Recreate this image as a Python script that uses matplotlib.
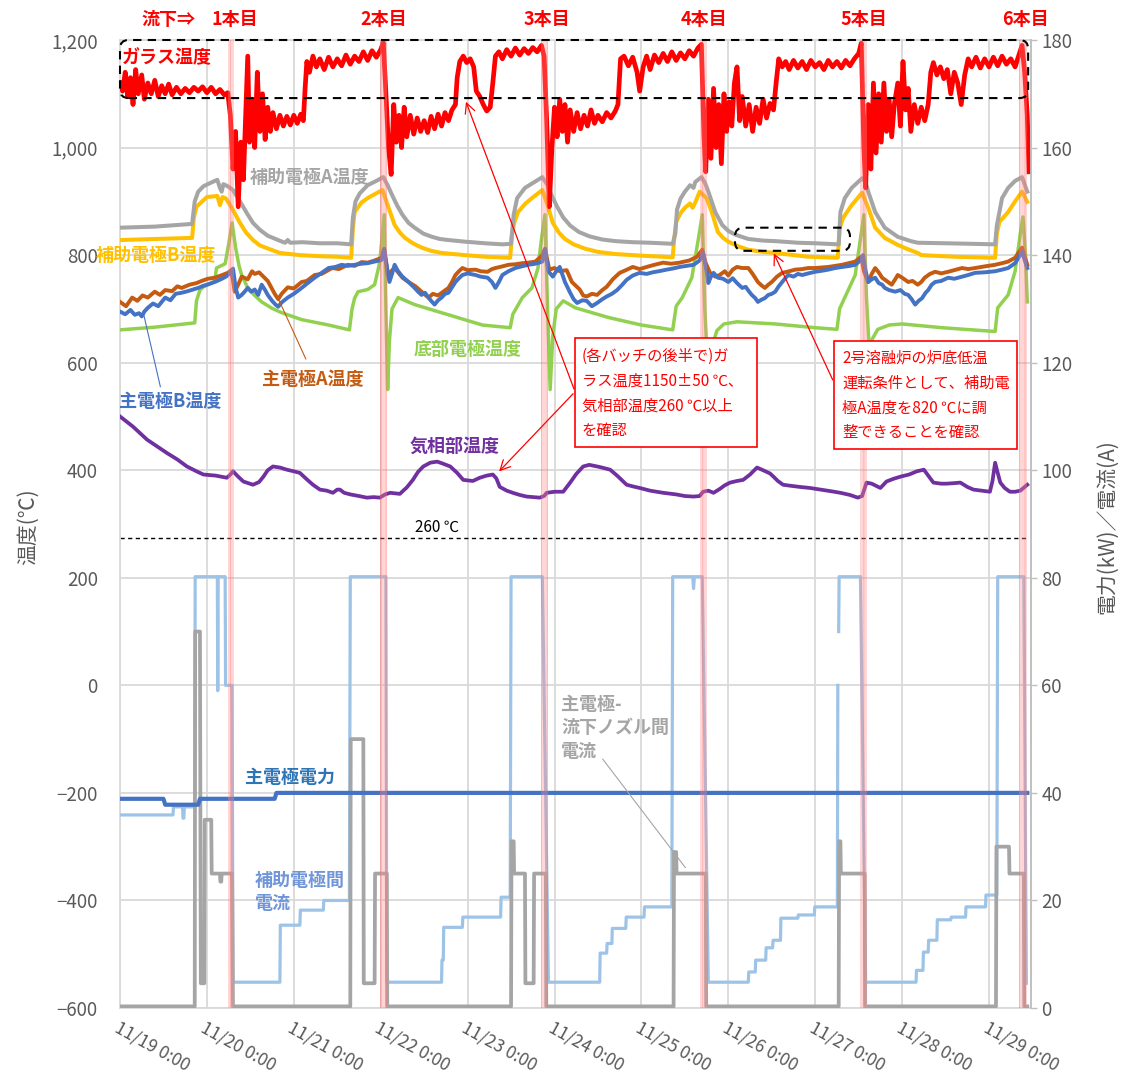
import numpy as np
import matplotlib
matplotlib.use("Agg")
import matplotlib.pyplot as plt
import matplotlib.transforms as mtransforms
from matplotlib.patches import FancyBboxPatch, Rectangle
from matplotlib.ticker import FuncFormatter

plt.rcParams['font.family'] = ['Noto Sans CJK JP', 'DejaVu Sans']
plt.rcParams['axes.unicode_minus'] = True
plt.rcParams['hatch.linewidth'] = 0.5

# ---------------- data (x = days since 11/19 0:00) ----------------
XTICK_LABELS = ['11/19 0:00', '11/20 0:00', '11/21 0:00', '11/22 0:00', '11/23 0:00',
                '11/24 0:00', '11/25 0:00', '11/26 0:00', '11/27 0:00', '11/28 0:00',
                '11/29 0:00']
TAP_START = [1.243, 2.992, 4.845, 6.674, 8.515, 10.345]
TAP_END = [1.312, 3.073, 4.925, 6.755, 8.596, 10.437]
TAP_LABELS = ['1本目', '2本目', '3本目', '4本目', '5本目', '6本目']
TAP_LABEL_X = [1.323, 3.03, 4.91, 6.72, 8.56, 10.42]
REF_LINE = 274          # "260 ℃" reference line
GLASS_RANGE = (1092, 1200)

GLASS_DAY = [0.00,0.03,0.06,0.09,0.12,0.15,0.18,0.21,0.25,0.28,0.32,0.36,0.40,0.44,0.48,0.52,0.56,0.60,0.65,0.70,0.75,0.80,0.85,0.90,0.95,1.00,1.05,1.10,1.15,1.20,1.24,
             1.27,1.30,1.33,1.36,1.39,1.42,1.45,1.47,1.49,1.52,1.55,1.58,1.61,1.64,1.67,1.70,1.73,1.76,1.80,1.84,1.88,1.92,1.96,2.00,2.04,2.08,2.11,2.13,2.15,2.18,2.22,2.26,2.30,2.35,2.40,2.45,2.50,2.55,2.60,2.65,2.70,2.75,2.80,2.85,2.90,2.95,3.00,3.03,
             3.06,3.09,3.12,3.15,3.18,3.21,3.24,3.27,3.30,3.34,3.38,3.42,3.46,3.50,3.54,3.58,3.62,3.66,3.70,3.74,3.78,3.82,3.86,3.88,3.91,3.95,3.99,4.03,4.07,4.10,4.14,4.18,4.22,4.26,4.29,4.32,4.36,4.40,4.45,4.50,4.55,4.60,4.65,4.70,4.75,4.80,4.85,4.88,
             4.91,4.94,4.97,5.00,5.03,5.06,5.09,5.12,5.15,5.18,5.22,5.26,5.30,5.34,5.38,5.42,5.46,5.50,5.55,5.60,5.65,5.70,5.73,5.76,5.80,5.85,5.90,5.95,5.98,6.02,6.06,6.10,6.15,6.20,6.25,6.30,6.35,6.40,6.45,6.50,6.55,6.60,6.65,6.69,
             6.72,6.74,6.77,6.80,6.83,6.86,6.89,6.92,6.95,6.98,7.01,7.04,7.07,7.10,7.13,7.16,7.20,7.24,7.28,7.32,7.36,7.40,7.44,7.48,7.52,7.55,7.58,7.62,7.66,7.70,7.75,7.80,7.85,7.90,7.95,8.00,8.05,8.10,8.15,8.20,8.25,8.30,8.35,8.40,8.45,8.50,8.53,
             8.56,8.58,8.61,8.64,8.67,8.70,8.73,8.76,8.79,8.82,8.85,8.88,8.91,8.95,8.98,9.01,9.04,9.07,9.10,9.14,9.18,9.22,9.26,9.30,9.33,9.36,9.40,9.44,9.48,9.52,9.56,9.60,9.64,9.68,9.72,9.76,9.80,9.85,9.90,9.95,10.00,10.05,10.10,10.15,10.20,10.25,10.30,10.35,10.38,
             10.41,10.44,10.46]
GLASS_TEMP = [1120,1105,1140,1095,1130,1080,1145,1100,1135,1090,1120,1100,1125,1095,1115,1100,1118,1098,1112,1100,1110,1102,1112,1105,1113,1102,1112,1100,1108,1098,1102,
              1060,960,1030,890,1010,940,1080,1170,1010,1090,1000,1140,1030,1100,1015,1075,1030,1065,1035,1060,1040,1058,1042,1060,1045,1062,1050,1110,1160,1140,1170,1150,1165,1145,1168,1150,1165,1152,1172,1155,1170,1160,1178,1162,1180,1168,1182,1195,
              1100,1000,950,1080,1010,1060,1000,1075,1020,1060,1025,1055,1030,1050,1028,1058,1035,1062,1040,1065,1050,1070,1080,1130,1160,1170,1158,1165,1150,1105,1095,1080,1068,1075,1120,1170,1178,1165,1182,1170,1185,1172,1184,1175,1186,1178,1190,1170,
              1050,890,1000,1075,1020,1090,1030,1080,1010,1070,1030,1065,1035,1060,1040,1070,1045,1060,1048,1065,1055,1068,1080,1165,1170,1152,1168,1140,1105,1150,1170,1145,1172,1158,1175,1160,1178,1162,1176,1165,1180,1170,1185,1192,
              1020,955,1090,980,1110,1000,1080,970,1100,1030,1085,1040,1120,1150,1050,1095,1040,1080,1030,1075,1045,1090,1055,1082,1070,1120,1165,1150,1160,1145,1162,1148,1160,1145,1162,1150,1158,1145,1162,1150,1160,1148,1162,1152,1165,1175,1194,
              1000,925,1080,960,1120,990,1100,1010,1120,1030,1090,1020,1080,1120,1040,1160,1070,1110,1030,1080,1045,1075,1050,1080,1140,1158,1135,1150,1128,1145,1100,1140,1120,1080,1135,1165,1150,1168,1148,1165,1150,1168,1152,1170,1155,1165,1150,1175,1190,
              1140,1060,955]

AUXA_DAY = [0.00,0.40,0.83,0.86,0.90,0.96,1.05,1.12,1.15,1.17,1.19,1.24,1.30,1.38,1.46,1.53,1.61,1.70,1.76,1.85,
            1.90,1.93,1.96,2.10,2.30,2.50,2.66,2.68,2.71,2.76,2.85,2.95,3.03,3.08,3.13,3.19,3.25,3.32,3.39,3.49,
            3.59,3.68,3.78,3.97,4.20,4.40,4.50,4.53,4.57,4.66,4.76,4.86,4.92,4.97,5.03,5.10,5.18,5.28,5.40,5.55,
            5.70,5.90,6.10,6.36,6.39,6.41,6.45,6.50,6.56,6.60,6.62,6.69,6.73,6.77,6.85,6.93,7.00,7.08,7.23,7.40,
            7.54,7.80,8.00,8.27,8.29,8.34,8.42,8.54,8.58,8.61,8.69,8.80,8.95,9.10,9.18,9.50,9.80,10.07,10.09,10.15,
            10.22,10.30,10.38,10.44]
AUXA_TEMP = [851,853,858,900,918,928,935,940,925,918,932,928,921,900,878,860,847,836,832,826,
             823,828,823,824,822,822,820,870,900,915,930,938,945,930,912,892,875,860,851,840,
             834,830,828,825,822,820,821,875,906,925,935,945,930,910,890,870,855,843,835,829,
             826,824,823,821,840,885,905,918,930,925,936,945,935,918,880,856,845,838,830,827,
             826,823,822,820,880,906,925,943,935,918,880,851,834,826,823,822,821,820,855,906,
             925,938,945,918]

AUXB_DAY = [0.00,0.40,0.83,0.85,0.88,1.00,1.12,1.15,1.18,1.22,1.30,1.38,1.45,1.53,1.61,1.69,1.84,2.07,2.30,2.50,
            2.66,2.68,2.70,2.78,2.85,2.95,3.02,3.08,3.16,3.22,3.28,3.37,3.47,3.58,3.70,3.97,4.20,4.49,4.51,4.54,
            4.58,4.66,4.74,4.86,4.92,4.98,5.05,5.12,5.22,5.35,5.50,5.70,6.00,6.36,6.38,6.40,6.45,6.50,6.56,6.59,
            6.62,6.67,6.75,6.81,6.88,6.94,7.00,7.12,7.23,7.40,7.54,7.92,8.26,8.28,8.32,8.42,8.54,8.61,8.69,8.80,
            8.95,9.05,9.18,9.22,9.60,10.07,10.09,10.12,10.22,10.30,10.38,10.44]
AUXB_TEMP = [828,830,832,870,890,908,910,893,908,905,884,860,842,828,818,813,804,800,798,797,
             795,850,880,898,906,915,921,893,856,842,832,822,814,808,804,800,797,795,838,862,
             880,895,906,921,893,860,842,830,820,812,806,802,799,796,835,862,878,888,896,888,
             898,918,906,880,843,832,825,816,810,806,804,797,795,850,869,893,916,888,851,832,
             819,812,804,800,797,795,840,862,880,900,918,899]

BOT_DAY = [0.00,0.40,0.86,0.88,0.92,0.96,1.05,1.09,1.11,1.16,1.21,1.25,1.29,1.33,1.37,1.40,1.47,1.55,1.63,1.75,
           1.86,2.09,2.40,2.64,2.67,2.70,2.74,2.85,2.93,2.98,3.00,3.04,3.06,3.08,3.10,3.13,3.20,3.39,3.78,4.17,
           4.49,4.52,4.63,4.74,4.81,4.85,4.89,4.92,4.95,4.98,5.02,5.10,5.24,5.62,6.00,6.36,6.40,6.47,6.58,6.65,
           6.70,6.73,6.76,6.80,6.87,6.95,7.10,7.54,8.00,8.25,8.28,8.34,8.46,8.52,8.56,8.59,8.62,8.66,8.72,8.85,
           9.00,9.46,10.07,10.10,10.22,10.30,10.36,10.39,10.42,10.44]
BOT_TEMP = [661,666,674,715,735,741,748,752,776,780,784,820,860,814,780,763,739,725,713,701,
            693,680,670,661,700,720,732,736,745,780,806,875,700,550,640,700,721,708,689,670,
            665,690,721,739,776,830,875,700,550,650,700,715,702,684,670,661,705,721,758,825,
            875,700,600,625,660,672,676,672,665,662,700,721,763,830,875,720,630,645,662,670,
            672,665,658,702,726,770,840,871,800,713]

MA_DAY = [0.00,0.07,0.14,0.20,0.26,0.32,0.40,0.46,0.52,0.60,0.66,0.71,0.80,0.88,0.94,1.01,1.09,1.16,1.24,1.28,
          1.32,1.36,1.40,1.47,1.52,1.55,1.60,1.65,1.70,1.74,1.78,1.82,1.86,1.93,2.00,2.09,2.15,2.24,2.32,2.44,
          2.52,2.62,2.70,2.78,2.85,2.93,3.01,3.04,3.08,3.12,3.16,3.20,3.25,3.32,3.40,3.47,3.55,3.60,3.66,3.72,
          3.78,3.82,3.86,3.90,3.94,4.00,4.09,4.15,4.23,4.28,4.32,4.40,4.47,4.55,4.63,4.70,4.78,4.86,4.89,4.94,
          5.00,5.06,5.14,5.20,5.29,5.33,5.37,5.43,5.49,5.55,5.60,5.67,5.75,5.82,5.90,5.98,6.06,6.15,6.25,6.34,
          6.44,6.55,6.64,6.70,6.74,6.79,6.85,6.90,6.96,7.00,7.05,7.10,7.16,7.23,7.28,7.34,7.38,7.42,7.46,7.50,
          7.56,7.62,7.70,7.77,7.85,7.92,8.00,8.15,8.31,8.46,8.53,8.56,8.61,8.65,8.69,8.73,8.77,8.82,8.88,8.92,
          8.95,9.00,9.07,9.12,9.18,9.22,9.26,9.32,9.38,9.45,9.53,9.60,9.69,9.76,9.84,9.95,10.07,10.15,10.22,10.30,
          10.38,10.44]
MA_TEMP = [713,705,721,715,725,721,732,726,735,733,742,739,745,748,752,756,758,762,767,772,
           732,745,760,755,770,765,768,760,752,740,728,718,728,740,738,750,752,763,765,776,
           774,782,780,787,786,790,795,812,763,770,776,768,758,750,742,732,721,728,725,732,
           739,750,763,770,776,772,773,770,769,774,776,779,782,783,785,786,788,800,812,773,
           776,770,772,750,736,725,723,728,726,735,741,755,767,772,778,774,778,782,786,784,
           786,790,797,810,785,767,760,763,770,762,773,778,776,776,765,750,744,739,745,750,
           760,767,770,773,774,776,776,778,782,788,797,770,750,765,776,768,758,752,745,755,
           763,758,750,752,745,750,758,765,769,766,769,772,776,774,776,779,782,785,788,795,
           814,782]

MB_DAY = [0.00,0.06,0.12,0.17,0.22,0.25,0.28,0.32,0.38,0.44,0.52,0.58,0.64,0.71,0.78,0.84,0.90,0.96,1.02,1.09,
          1.16,1.22,1.27,1.30,1.33,1.36,1.40,1.44,1.47,1.51,1.55,1.59,1.63,1.67,1.70,1.75,1.79,1.82,1.86,1.93,
          2.00,2.09,2.16,2.24,2.32,2.40,2.48,2.55,2.62,2.70,2.78,2.85,2.93,3.01,3.04,3.08,3.10,3.13,3.16,3.20,
          3.25,3.32,3.39,3.43,3.47,3.51,3.55,3.58,3.62,3.66,3.70,3.74,3.78,3.82,3.86,3.90,3.94,4.00,4.09,4.15,
          4.23,4.28,4.32,4.36,4.40,4.47,4.55,4.62,4.70,4.78,4.86,4.89,4.93,4.98,5.02,5.06,5.12,5.18,5.22,5.26,
          5.32,5.37,5.43,5.49,5.55,5.60,5.66,5.72,5.78,5.83,5.90,5.98,6.06,6.13,6.20,6.29,6.36,6.44,6.52,6.60,
          6.67,6.71,6.75,6.77,6.80,6.83,6.88,6.94,7.00,7.05,7.10,7.16,7.20,7.24,7.27,7.31,7.34,7.38,7.42,7.46,
          7.50,7.54,7.58,7.62,7.66,7.69,7.75,7.80,7.85,7.92,8.00,8.08,8.15,8.23,8.31,8.40,8.46,8.52,8.55,8.58,
          8.61,8.65,8.69,8.73,8.77,8.80,8.85,8.92,8.98,9.03,9.07,9.11,9.15,9.19,9.23,9.27,9.30,9.34,9.38,9.45,
          9.53,9.60,9.69,9.76,9.84,9.95,10.07,10.15,10.22,10.30,10.38,10.44]
MB_TEMP = [695,690,698,689,692,686,695,702,710,705,721,716,728,730,733,736,739,743,746,750,
           755,760,767,775,740,721,726,733,739,732,736,726,745,735,726,715,708,704,712,721,
           728,739,748,758,767,776,778,782,780,782,784,785,788,791,810,770,750,765,782,770,
           760,750,739,732,726,730,721,715,708,716,721,728,730,740,750,757,763,766,763,760,
           758,750,739,750,763,770,776,779,782,784,788,810,770,760,770,778,750,730,718,711,
           716,715,705,711,718,723,728,735,745,754,762,767,765,768,770,773,775,778,780,782,
           790,804,770,748,760,767,758,756,750,757,748,739,741,732,726,720,713,717,720,726,
           728,732,742,750,758,763,760,765,763,766,769,771,773,776,778,780,782,790,800,770,
           750,755,758,748,745,739,735,732,735,728,726,718,708,715,720,730,735,745,750,752,
           758,756,760,763,767,768,770,773,776,785,806,776]

GAS_DAY = [0.00,0.15,0.31,0.42,0.54,0.66,0.77,0.88,0.96,1.10,1.23,1.27,1.30,1.36,1.42,1.53,1.60,1.65,1.70,1.76,
           1.84,1.92,2.00,2.07,2.15,2.22,2.30,2.38,2.45,2.50,2.53,2.58,2.65,2.75,2.84,2.92,2.99,3.05,3.11,3.22,
           3.30,3.37,3.43,3.49,3.57,3.65,3.72,3.80,3.88,3.95,4.06,4.14,4.22,4.29,4.33,4.37,4.45,4.52,4.60,4.68,
           4.76,4.83,4.88,4.91,5.00,5.10,5.18,5.25,5.33,5.40,5.52,5.64,5.72,5.83,5.90,5.98,6.10,6.25,6.40,6.50,
           6.60,6.67,6.71,6.77,6.83,6.90,6.96,7.02,7.10,7.17,7.25,7.33,7.40,7.48,7.52,7.57,7.63,7.72,7.82,7.94,
           8.06,8.18,8.29,8.40,8.49,8.54,8.59,8.65,8.75,8.82,8.90,8.98,9.08,9.17,9.25,9.30,9.36,9.45,9.51,9.60,
           9.67,9.75,9.82,9.92,10.01,10.04,10.07,10.10,10.13,10.18,10.24,10.30,10.36,10.44]
GAS_TEMP = [500,481,457,445,432,420,407,398,392,390,386,392,398,388,379,373,378,388,400,407,
            405,401,398,395,383,373,364,362,358,364,364,358,355,352,349,350,349,355,358,356,
            368,382,397,407,414,416,412,407,395,382,380,386,390,392,385,369,362,358,354,351,
            350,349,352,358,360,360,377,393,407,410,406,401,390,373,370,367,362,358,355,352,
            351,352,360,362,358,365,372,377,380,382,392,405,400,394,388,380,373,371,369,367,
            364,361,358,354,349,352,377,375,367,379,384,388,392,398,401,390,377,375,375,376,
            377,369,364,362,360,380,414,395,377,367,360,360,362,373]

# right axis (kW / A)
PWR_DAY = [0.00, 0.50, 0.52, 0.90, 0.92, 1.78, 1.80, 10.44]
PWR_VAL = [38.9, 38.9, 37.8, 37.8, 38.9, 38.9, 40.0, 40.0]

AC_DAY = [0.00,0.61,0.615,0.72,0.725,0.735,0.74,0.86,0.865,1.12,
          1.125,1.13,1.21,1.215,1.29,1.30,1.84,1.845,2.07,2.075,
          2.34,2.345,2.64,2.65,3.06,3.07,3.70,3.705,3.72,3.725,
          3.94,3.945,4.38,4.385,4.49,4.50,4.86,4.93,5.52,5.525,
          5.60,5.605,5.66,5.665,5.82,5.825,6.03,6.035,6.35,6.36,
          6.59,6.60,6.61,6.70,6.77,7.23,7.235,7.31,7.315,7.43,
          7.435,7.51,7.515,7.60,7.605,7.80,7.805,7.99,7.995,8.255,
          8.26,8.265,8.27,8.275,8.52,8.58,9.16,9.165,9.24,9.245,
          9.30,9.305,9.40,9.405,9.56,9.565,9.73,9.735,9.96,9.965,
          10.09,10.10,10.40,10.43]
AC_VAL = [35.9,35.9,37.4,37.4,35.3,35.3,37.4,37.4,80.2,80.2,
          59,80.2,80.2,60,60,4.8,4.8,15.4,15.4,18.2,
          18.2,20,20,80.2,80.2,4.8,4.8,8.9,8.9,15,
          15,16.9,16.9,20.6,20.6,80.2,80.2,4.8,4.8,10.2,
          10.2,12,12,14.8,14.8,16.9,16.9,18.8,18.8,80.2,
          80.2,78,80.2,80.2,4.8,4.8,6.7,6.7,8.9,8.9,
          11.2,11.2,12.6,12.6,16.7,16.7,17.3,17.3,18.8,18.8,
          60,np.nan,70,80.2,80.2,4.8,4.8,7,7,10.4,
          10.4,12.6,12.6,16.4,16.4,16.9,16.9,18.8,18.8,21,
          21,80.2,80.2,4.6]

NC_DAY = [0.00,0.86,0.865,0.92,0.93,0.97,0.975,1.05,1.055,1.15,
          1.155,1.165,1.17,1.29,1.30,2.65,2.655,2.80,2.805,2.93,
          2.935,3.07,3.075,4.50,4.505,4.53,4.535,4.66,4.665,4.76,
          4.765,4.90,4.905,6.37,6.375,6.40,6.405,6.74,6.745,8.27,
          8.275,8.29,8.295,8.57,8.575,10.08,10.085,10.23,10.235,10.40,
          10.405,10.44]
NC_VAL = [0.3,0.3,70,70,4.6,4.6,35,35,25,25,
          23.5,23.5,25,25,0.3,0.3,50,50,4.6,4.6,
          25,25,0.3,0.3,31,31,25,25,4.6,4.6,
          25,25,0.3,0.3,29,29,25,25,0.3,0.3,
          31,31,25,25,0.3,0.3,30,30,25,25,
          0.3,0.3]

BOX1_TEXT = "(各バッチの後半で)ガ\nラス温度1150±50 ℃、\n気相部温度260 ℃以上\nを確認"
BOX2_TEXT = "2号溶融炉の炉底低温\n運転条件として、補助電\n極A温度を820 ℃に調\n整できることを確認"

# ---------------- figure ----------------
W, H = 1124, 1081
fig = plt.figure(figsize=(W / 100, H / 100), dpi=100)
ax = fig.add_axes([120 / W, 73 / H, 911 / W, 968 / H])
ax2 = ax.twinx()
ax2.set_autoscale_on(False)

XMAX = 10.483
ax.set_xlim(0, XMAX)
ax.set_ylim(-600, 1200)
ax2.set_ylim(0, 180)

GRAY_TXT = '#595959'
GRID = '#d9d9d9'

# temperature series
ax.plot(BOT_DAY, BOT_TEMP, color='#92d050', lw=2.5, zorder=3)
ax.plot(MA_DAY, MA_TEMP, color='#c55a11', lw=2.8, zorder=4)
ax.plot(MB_DAY, MB_TEMP, color='#4472c4', lw=2.8, zorder=5)
ax.plot(AUXB_DAY, AUXB_TEMP, color='#ffc000', lw=2.9, zorder=6)
ax.plot(AUXA_DAY, AUXA_TEMP, color='#a5a5a5', lw=2.9, zorder=7)
ax.plot(GAS_DAY, GAS_TEMP, color='#7030a0', lw=2.7, zorder=8)
ax.plot(GLASS_DAY, GLASS_TEMP, color='#ff0000', lw=3.4, zorder=9)
ax.hlines(REF_LINE, 0, 10.45, colors='black', linestyles=(0, (3, 2.5)), lw=1.0, zorder=2)

# power / current series
ax2.plot(AC_DAY, AC_VAL, color='#9dc3e6', lw=2.3, zorder=3)
ax2.plot(NC_DAY, NC_VAL, color='#a5a5a5', lw=2.7, zorder=4)
ax2.plot(PWR_DAY, PWR_VAL, color='#4472c4', lw=3.0, zorder=5)

# tapping bands
for s, e in zip(TAP_START, TAP_END):
    ax2.axvspan(s, e, facecolor=(1, 0.55, 0.55, 0.35), edgecolor=(1, 0.3, 0.3, 0.35),
                hatch='|||', lw=0, zorder=10)

# dashed rounded frames
px_per_x = 911 / XMAX
px_per_y = 968 / 1800
aspect = px_per_x / px_per_y
big = FancyBboxPatch((0.0, GLASS_RANGE[0]), 10.45, GLASS_RANGE[1] - GLASS_RANGE[0],
                     boxstyle='round,pad=0,rounding_size=0.1', mutation_aspect=aspect,
                     fill=False, ec='black', ls=(0, (4, 3)), lw=1.5, clip_on=False,
                     transform=ax.transData, zorder=11)
ax2.add_patch(big)
small = FancyBboxPatch((7.077, 808), 1.323, 43,
                       boxstyle='round,pad=0,rounding_size=0.1', mutation_aspect=aspect,
                       fill=False, ec='black', ls=(0, (4, 3)), lw=1.5, clip_on=False,
                       transform=ax.transData, zorder=11)
ax2.add_patch(small)

# ticks
ax.set_xticks(range(len(XTICK_LABELS)))
ax.set_xticklabels(XTICK_LABELS, rotation=-29, ha='left', va='top', rotation_mode='anchor')
ax.tick_params(axis='x', length=0, pad=8, labelsize=12.5, labelcolor=GRAY_TXT)
ax.set_yticks(np.arange(-600, 1201, 200))
ax.yaxis.set_major_formatter(FuncFormatter(lambda v, p: f"{int(v):,}".replace('-', '\u2212')))
ax.tick_params(axis='y', length=0, pad=16, labelsize=13.5, labelcolor=GRAY_TXT)
ax2.set_yticks(np.arange(0, 181, 20))
ax2.tick_params(axis='y', length=4.5, width=1, color='#bfbfbf', pad=3, labelsize=13.5,
                labelcolor=GRAY_TXT)
ax.grid(True, color=GRID, lw=1.3)
ax.set_axisbelow(True)
for sp in ax.spines.values():
    sp.set_color(GRID)
    sp.set_linewidth(1.3)
for k in ['left', 'top', 'bottom']:
    ax2.spines[k].set_visible(False)
ax2.spines['right'].set_color('#bfbfbf')
ax2.spines['right'].set_linewidth(1.3)

fig.text(28 / W, 1 - 527 / H, '温度(℃)', rotation=90, ha='center', va='center',
         fontsize=15, color=GRAY_TXT)
fig.text(1107 / W, 1 - 527 / H, '電力(kW)／電流(A)', rotation=90, ha='center', va='center',
         fontsize=15, color=GRAY_TXT)

# top labels
top = mtransforms.blended_transform_factory(ax.transData, ax.transAxes)
ax.text(0.555, 1.0207, '流下⇒', transform=top, ha='center', va='center',
        fontsize=13, fontweight='bold', color='#ff0000')
for x, lab in zip(TAP_LABEL_X, TAP_LABELS):
    ax.text(x, 1.0207, lab, transform=top, ha='center', va='center',
            fontsize=13, fontweight='bold', color='#ff0000')

# series labels
bold = dict(fontsize=13, fontweight='bold')
ax.text(0.023, 1168, 'ガラス温度', color='#ff0000', ha='left', va='center', zorder=12, **bold)
ax.text(2.175, 945, '補助電極A温度', color='#a5a5a5', ha='center', va='center', **bold)
ax.text(0.414, 800, '補助電極B温度', color='#ffc000', ha='center', va='center', **bold)
ax.text(2.22, 568, '主電極A温度', color='#c55a11', ha='center', va='center', **bold)
ax.text(0.58, 527, '主電極B温度', color='#4472c4', ha='center', va='center', **bold)
ax.text(4.0, 624, '底部電極温度', color='#92d050', ha='center', va='center', **bold)
ax.text(3.855, 444, '気相部温度', color='#7030a0', ha='center', va='center', **bold)
ax.text(3.65, 293, '260 ℃', color='black', ha='center', va='center', fontsize=11)
ax2.text(1.956, 42.8, '主電極電力', color='#2e75b6', ha='center', va='center', zorder=12, **bold)
ax2.text(1.553, 21.6, '補助電極間\n電流', color='#7095d8', ha='left', va='center',
         linespacing=1.3, zorder=12, **bold)
ax2.text(5.075, 52.1, '主電極-\n流下ノズル間\n電流', color='#a5a5a5', ha='left', va='center',
         linespacing=1.3, zorder=12, **bold)

# leader lines
ax.annotate('', xy=(0.265, 695), xytext=(0.472, 550),
            arrowprops=dict(arrowstyle='-', color='#4472c4', lw=0.8), zorder=12)
ax.annotate('', xy=(1.807, 724), xytext=(2.152, 602),
            arrowprops=dict(arrowstyle='-', color='#c55a11', lw=0.8), zorder=12)
ax2.annotate('', xy=(6.525, 25.7), xytext=(5.535, 46.7),
             arrowprops=dict(arrowstyle='-', color='#a5a5a5', lw=0.8), zorder=12)

# annotation boxes
ax2.add_patch(Rectangle((5.236, 444), 2.094, 202, transform=ax.transData,
                        fc='white', ec='#ff0000', lw=1.2, zorder=20))
ax2.text(5.316, 628, BOX1_TEXT, transform=ax.transData, color='#ff0000', fontsize=11,
         ha='left', va='top', linespacing=1.6, zorder=21)
ax2.add_patch(Rectangle((8.216, 440), 2.106, 200, transform=ax.transData,
                        fc='white', ec='#ff0000', lw=1.2, zorder=20))
ax2.text(8.308, 624, BOX2_TEXT, transform=ax.transData, color='#ff0000', fontsize=11,
         ha='left', va='top', linespacing=1.6, zorder=21)

arrow = dict(arrowstyle='->', color='#ff0000', lw=0.9, mutation_scale=18)
ax2.annotate('', xy=(3.97, 1090), xytext=(5.236, 546), xycoords=ax.transData,
             textcoords=ax.transData, arrowprops=arrow, zorder=15)
ax2.annotate('', xy=(4.34, 394), xytext=(5.236, 546), xycoords=ax.transData,
             textcoords=ax.transData, arrowprops=arrow, zorder=15)
ax2.annotate('', xy=(7.51, 808), xytext=(8.216, 563), xycoords=ax.transData,
             textcoords=ax.transData, arrowprops=arrow, zorder=15)

fig.savefig('out.png', dpi=100)
